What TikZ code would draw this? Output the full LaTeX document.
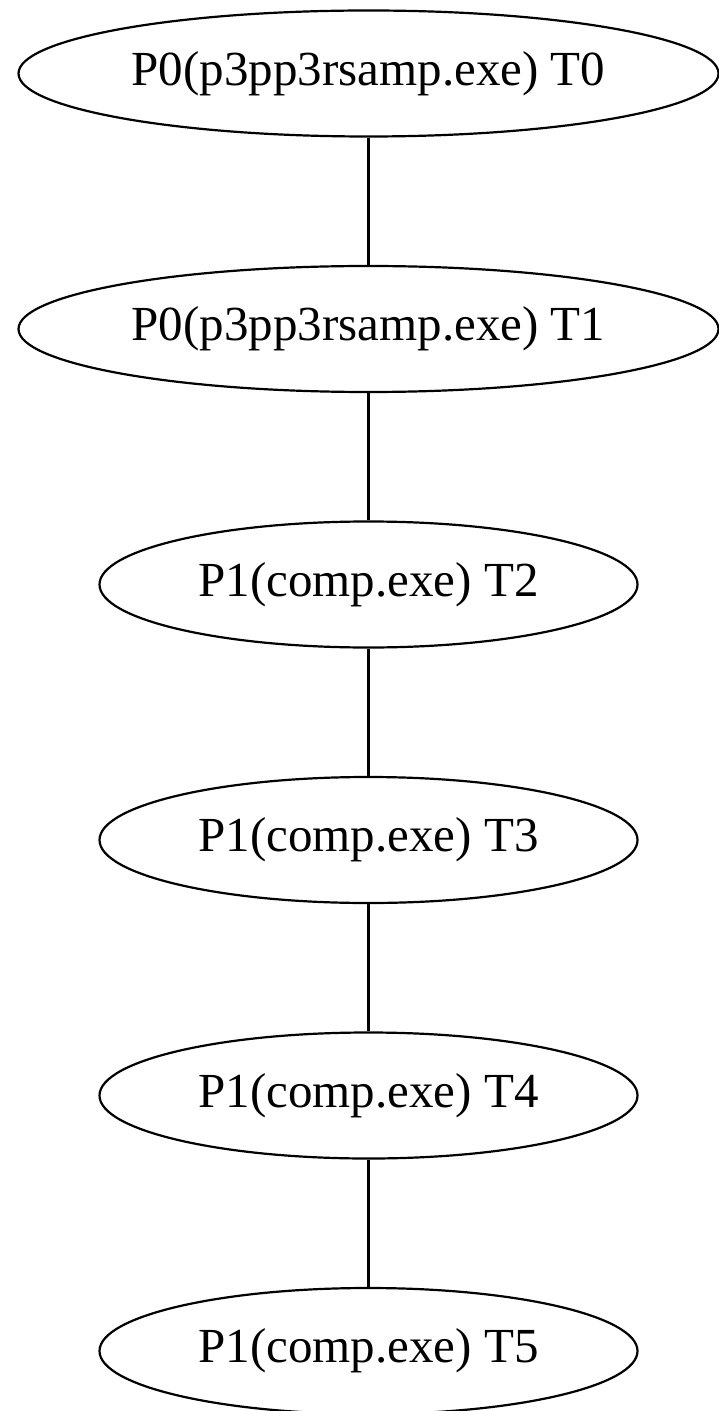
\documentclass[tikz,border=0pt]{standalone}
\usepackage{fontspec}
\setmainfont{Liberation Serif}
\usetikzlibrary{shapes.geometric}

\begin{document}
\begin{tikzpicture}[x=0.5pt, y=-0.5pt, line width=1.1pt,
   proc/.style={ellipse, draw, minimum height=63pt, inner sep=0pt,
      font=\fontsize{24.5}{29}\selectfont},
   wide/.style={minimum width=350pt},
   narrow/.style={minimum width=269pt}]
   \useasboundingbox (0,0) rectangle (718,1411);
   \node (t0) at (368.5, 73.5) [proc, wide] {P0(p3pp3rsamp.exe) T0};
   \node (t1) at (368.5, 329) [proc, wide] {P0(p3pp3rsamp.exe) T1};
   \node (t2) at (368.5, 584.5) [proc, narrow] {P1(comp.exe) T2};
   \node (t3) at (368.5, 840) [proc, narrow] {P1(comp.exe) T3};
   \node (t4) at (368.5, 1095.5) [proc, narrow] {P1(comp.exe) T4};
   \node (t5) at (368.5, 1351) [proc, narrow] {P1(comp.exe) T5};

   \draw (t0) -- (t1);
   \draw (t1) -- (t2);
   \draw (t2) -- (t3);
   \draw (t3) -- (t4);
   \draw (t4) -- (t5);

\end{tikzpicture}
\end{document}
